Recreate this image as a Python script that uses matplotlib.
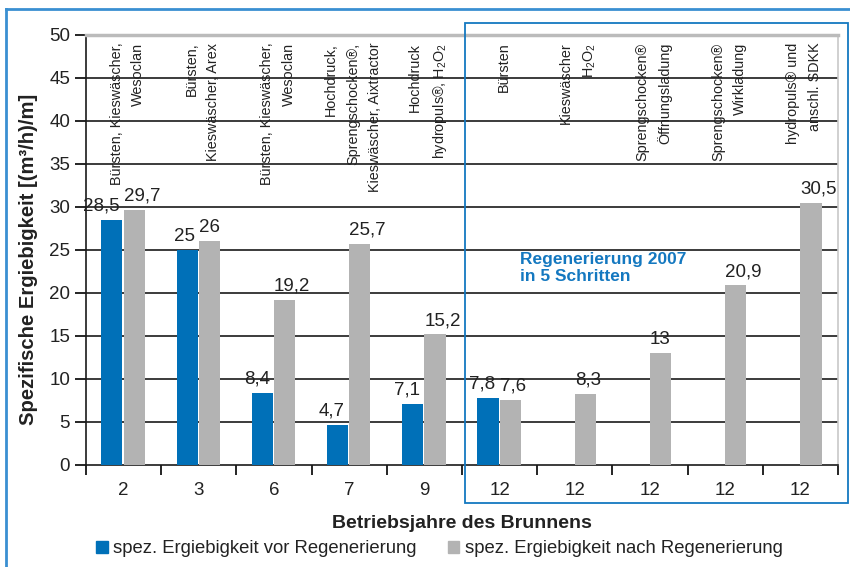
import numpy as np
import matplotlib
matplotlib.use("Agg")
from matplotlib import pyplot as plt
from matplotlib.patches import Patch, Rectangle
from matplotlib.lines import Line2D

plt.rcParams['font.family'] = ['Liberation Sans', 'DejaVu Sans']
plt.rcParams['mathtext.fontset'] = 'custom'
plt.rcParams['mathtext.rm'] = 'Liberation Sans'
plt.rcParams['mathtext.it'] = 'Liberation Sans'

# data
years = ["2", "3", "6", "7", "9", "12", "12", "12", "12", "12"]
vor = [28.5, 25, 8.4, 4.7, 7.1, 7.8, None, None, None, None]
nach = [29.7, 26, 19.2, 25.7, 15.2, 7.6, 8.3, 13, 20.9, 30.5]
methods = [
  "Bürsten, Kieswäscher,\nWesoclan",
  "Bürsten,\nKieswäscher, Arex",
  "Bürsten, Kieswäscher,\nWesoclan",
  "Hochdruck,\nSprengschocken®,\nKieswäscher, Aixtractor",
  "Hochdruck\nhydropuls®, H$_2$O$_2$",
  "Bürsten",
  "Kieswäscher\nH$_2$O$_2$",
  "Sprengschocken®\nÖffnungsladung",
  "Sprengschocken®\nWirkladung",
  "hydropuls® und\nanschl. SDKK",
]

BLUE = "#0070b8"
GREY = "#b3b3b3"
TXT = "#222222"

fig = plt.figure(figsize=(8.5, 5.67), dpi=100)
ax = fig.add_axes([0.1012, 0.18, 0.8848, 0.7583])

x = np.arange(len(years))
w = 0.28
for i in x:
  if vor[i] is not None:
    ax.bar(i - 0.015 - w / 2, vor[i], w, color=BLUE, zorder=3)
    ax.text(i - 0.015 - 0.04, vor[i] + 0.6, f"{vor[i]:g}".replace(".", ","),
            ha="right", va="bottom", fontsize=13.5, color=TXT)
  ax.bar(i + w / 2, nach[i], w, color=GREY, zorder=3)
  ax.text(i, nach[i] + 0.6, f"{nach[i]:g}".replace(".", ","),
          ha="left", va="bottom", fontsize=13.5, color=TXT)
  ax.text(i + 0.05, 49.1, methods[i], rotation=90, ha="center", va="top",
          multialignment="right", fontsize=10.4, linespacing=1.7, color=TXT)

ax.text(5.27, 22.9, "Regenerierung 2007\nin 5 Schritten", color="#1478c0",
        fontsize=12.5, fontweight="bold", ha="left", va="center", linespacing=1.1)

ax.set_xlim(-0.5, 9.5)
ax.set_ylim(0, 50)
ax.set_yticks(range(0, 51, 5))
for y in range(5, 50, 5):
  ax.axhline(y, color="#1a1a1a", lw=1.2, zorder=1)
ax.set_xticks(x)
ax.set_xticklabels(years)
ax.set_xticks(np.arange(-0.5, 10, 1), minor=True)
ax.tick_params(axis="x", which="major", length=0, labelsize=13.5, pad=12, labelcolor=TXT)
ax.tick_params(axis="x", which="minor", length=7, width=1.2, direction="out")
ax.tick_params(axis="y", length=8, width=1.2, labelsize=13.5, labelcolor=TXT)

ax.spines["left"].set_color("#1a1a1a")
ax.spines["left"].set_linewidth(1.2)
ax.spines["bottom"].set_color("#1a1a1a")
ax.spines["bottom"].set_linewidth(1.2)
ax.spines["top"].set_color("#bbbbbb")
ax.spines["top"].set_linewidth(2.5)
ax.spines["right"].set_color("#c8c8c8")
ax.spines["right"].set_linewidth(1.2)

ax.set_ylabel("Spezifische Ergiebigkeit [(m³/h)/m]", fontsize=14.6, fontweight="bold",
              color=TXT)
ax.yaxis.set_label_coords(-0.064, 0.479)
fig.text(0.544, 0.077, "Betriebsjahre des Brunnens", ha="center", va="center",
         fontsize=14, fontweight="bold", color=TXT)

handles = [Patch(color=BLUE), Patch(color=GREY)]
fig.legend(handles, ["spez. Ergiebigkeit vor Regenerierung", "spez. Ergiebigkeit nach Regenerierung"],
           loc="center", bbox_to_anchor=(0.517, 0.032), ncol=2, frameon=False, fontsize=13.3,
           handlelength=0.6, handleheight=0.6, handletextpad=0.3, columnspacing=1.7,
           labelcolor=TXT)

# highlight box for the 2007 regeneration
fig.add_artist(Rectangle((0.547, 0.113), 0.4506, 0.846, fill=False, ec="#1478c0", lw=1.3,
                         transform=fig.transFigure))
# outer frame
fig.add_artist(Line2D([0.007, 0.007], [0, 0.984], color="#3a8fd2", lw=2, transform=fig.transFigure))
fig.add_artist(Line2D([0.007, 1.0], [0.984, 0.984], color="#3a8fd2", lw=2, transform=fig.transFigure))

plt.savefig("out.png", dpi=100)
